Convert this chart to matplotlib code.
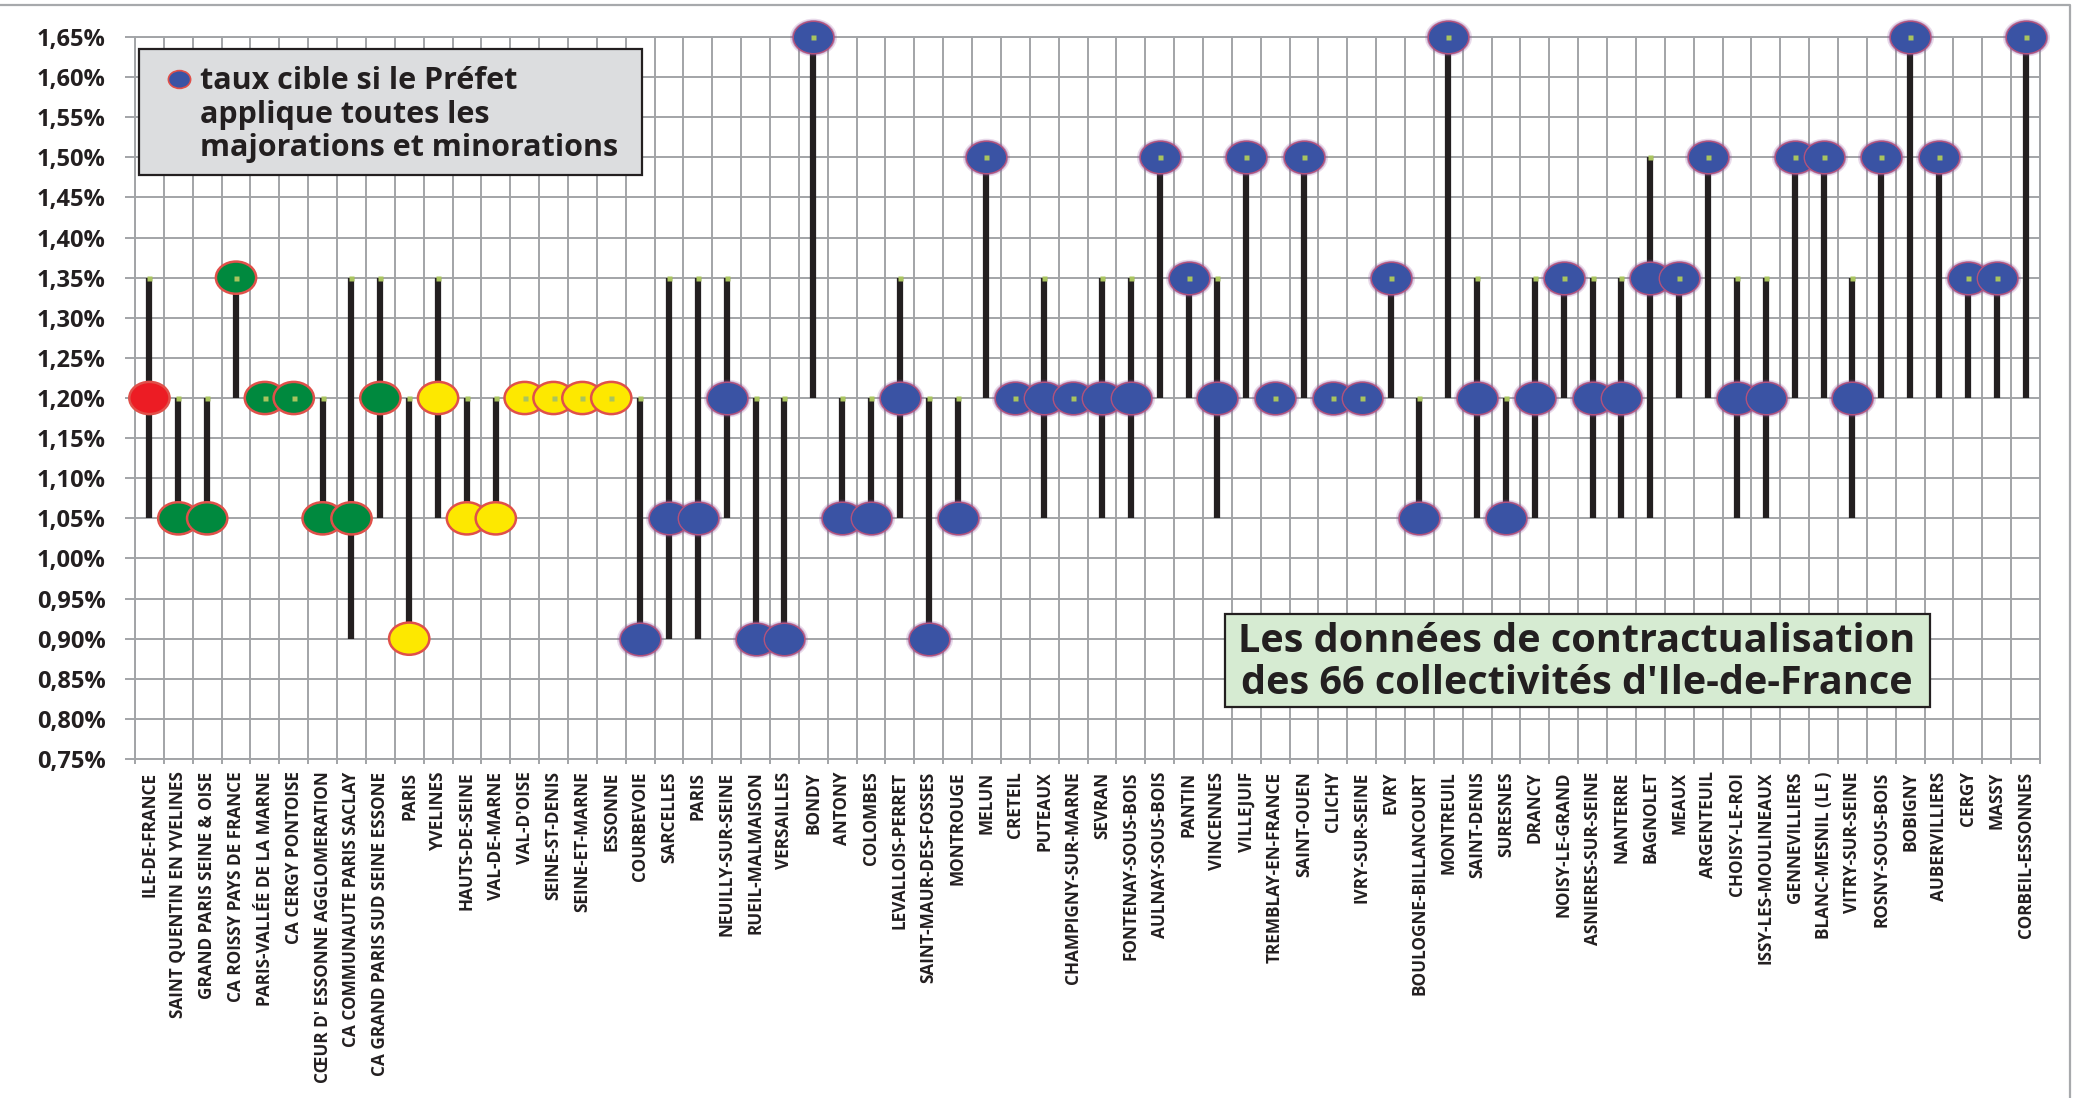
import numpy as np
import matplotlib
matplotlib.use("Agg")
import matplotlib.pyplot as plt
from matplotlib.path import Path
from matplotlib.transforms import Affine2D
from matplotlib.patches import Rectangle
from matplotlib.lines import Line2D

# ---------------------------------------------------------------------------
# Data : fourchette de taux (bas / haut) et taux cible par collectivité
# ---------------------------------------------------------------------------
collectivites = [
    "ILE-DE-FRANCE", "SAINT QUENTIN EN YVELINES", "GRAND PARIS SEINE & OISE",
    "CA ROISSY PAYS DE FRANCE", "PARIS-VALLÉE DE LA MARNE", "CA CERGY PONTOISE",
    "CŒUR D' ESSONNE AGGLOMERATION", "CA COMMUNAUTE PARIS SACLAY",
    "CA GRAND PARIS SUD SEINE ESSONE", "PARIS", "YVELINES", "HAUTS-DE-SEINE",
    "VAL-DE-MARNE", "VAL-D'OISE", "SEINE-ST-DENIS", "SEINE-ET-MARNE", "ESSONNE",
    "COURBEVOIE", "SARCELLES", "PARIS", "NEUILLY-SUR-SEINE", "RUEIL-MALMAISON",
    "VERSAILLES", "BONDY", "ANTONY", "COLOMBES", "LEVALLOIS-PERRET",
    "SAINT-MAUR-DES-FOSSES", "MONTROUGE", "MELUN", "CRETEIL", "PUTEAUX",
    "CHAMPIGNY-SUR-MARNE", "SEVRAN", "FONTENAY-SOUS-BOIS", "AULNAY-SOUS-BOIS",
    "PANTIN", "VINCENNES", "VILLEJUIF", "TREMBLAY-EN-FRANCE", "SAINT-OUEN",
    "CLICHY", "IVRY-SUR-SEINE", "EVRY", "BOULOGNE-BILLANCOURT", "MONTREUIL",
    "SAINT-DENIS", "SURESNES", "DRANCY", "NOISY-LE-GRAND", "ASNIERES-SUR-SEINE",
    "NANTERRE", "BAGNOLET", "MEAUX", "ARGENTEUIL", "CHOISY-LE-ROI",
    "ISSY-LES-MOULINEAUX", "GENNEVILLIERS", "BLANC-MESNIL (LE )",
    "VITRY-SUR-SEINE", "ROSNY-SOUS-BOIS", "BOBIGNY", "AUBERVILLIERS", "CERGY",
    "MASSY", "CORBEIL-ESSONNES",
]

taux_bas = [
    1.05, 1.05, 1.05, 1.20, 1.20, 1.20, 1.05, 0.90, 1.05, 0.90,
    1.05, 1.05, 1.05, 1.20, 1.20, 1.20, 1.20, 0.90, 0.90, 0.90,
    1.05, 0.90, 0.90, 1.20, 1.05, 1.05, 1.05, 0.90, 1.05, 1.20,
    1.20, 1.05, 1.20, 1.05, 1.05, 1.20, 1.20, 1.05, 1.20, 1.20,
    1.20, 1.20, 1.20, 1.20, 1.05, 1.20, 1.05, 1.05, 1.05, 1.20,
    1.05, 1.05, 1.05, 1.20, 1.20, 1.05, 1.05, 1.20, 1.20, 1.05,
    1.20, 1.20, 1.20, 1.20, 1.20, 1.20,
]

taux_haut = [
    1.35, 1.20, 1.20, 1.35, 1.20, 1.20, 1.20, 1.35, 1.35, 1.20,
    1.35, 1.20, 1.20, 1.20, 1.20, 1.20, 1.20, 1.20, 1.35, 1.35,
    1.35, 1.20, 1.20, 1.65, 1.20, 1.20, 1.35, 1.20, 1.20, 1.50,
    1.20, 1.35, 1.20, 1.35, 1.35, 1.50, 1.35, 1.35, 1.50, 1.20,
    1.50, 1.20, 1.20, 1.35, 1.20, 1.65, 1.35, 1.20, 1.35, 1.35,
    1.35, 1.35, 1.50, 1.35, 1.50, 1.35, 1.35, 1.50, 1.50, 1.35,
    1.50, 1.65, 1.50, 1.35, 1.35, 1.65,
]

taux_cible = [
    1.20, 1.05, 1.05, 1.35, 1.20, 1.20, 1.05, 1.05, 1.20, 0.90,
    1.20, 1.05, 1.05, 1.20, 1.20, 1.20, 1.20, 0.90, 1.05, 1.05,
    1.20, 0.90, 0.90, 1.65, 1.05, 1.05, 1.20, 0.90, 1.05, 1.50,
    1.20, 1.20, 1.20, 1.20, 1.20, 1.50, 1.35, 1.20, 1.50, 1.20,
    1.50, 1.20, 1.20, 1.35, 1.05, 1.65, 1.20, 1.05, 1.20, 1.35,
    1.20, 1.20, 1.35, 1.35, 1.50, 1.20, 1.20, 1.50, 1.50, 1.20,
    1.50, 1.65, 1.50, 1.35, 1.35, 1.65,
]

# type de collectivité : R = région, E = EPCI, D = département, C = commune
types = ["R"] + ["E"] * 8 + ["D"] * 8 + ["C"] * 49

y_ticks = [0.75 + 0.05 * k for k in range(19)]

# ---------------------------------------------------------------------------
# Styles
# ---------------------------------------------------------------------------
DARK = "#231f20"
GRID = "#a2a4a7"
FONT = ["Open Sans", "DejaVu Sans"]
_TYPE_COLORS = {"R": "#ec1c24", "E": "#00893e", "D": "#fde800", "C": "#3a53a4"}

W, H = 2076, 1098
plt.rcParams["font.family"] = FONT
fig = plt.figure(figsize=(W / 100, H / 100), dpi=100)

# plot area, pixel-based placement
L, R, T, B = 135, 2040, 37, 759
ax = fig.add_axes([L / W, 1 - B / H, (R - L) / W, (B - T) / H])

n = len(collectivites)
x = np.arange(n) + 0.5

ax.set_xlim(0, n)
ax.set_ylim(0.75, 1.65)

# gridlines on category boundaries and every 0.05 %
ax.set_xticks(np.arange(n + 1))
ax.set_xticklabels([])
ax.set_xticks(x, minor=True)
ax.set_xticklabels(collectivites, minor=True, rotation=90, ha="center", va="top",
                   fontsize=12.3, fontweight="bold", color=DARK)
ax.tick_params(axis="x", which="major", length=3.5, width=1.4, color=GRID)
ax.tick_params(axis="x", which="minor", length=0, pad=9)

ax.set_yticks(y_ticks)
ax.set_yticklabels([f"{v:.2f}%".replace(".", ",") for v in y_ticks],
                   fontsize=17, fontweight="bold", color=DARK)
ax.tick_params(axis="y", length=7, width=1.4, color=GRID, pad=14)

ax.grid(True, which="major", color=GRID, linewidth=1.4, zorder=0)
ax.set_axisbelow(True)
for sp in ax.spines.values():
    sp.set_color(GRID)
    sp.set_linewidth(1.4)

# fourchettes
ax.vlines(x, taux_bas, taux_haut, color=DARK, linewidth=4.5, zorder=2)

# taux cible : ellipses
ell = Path.unit_circle().transformed(Affine2D().scale(1.0, 0.8))
cols = [_TYPE_COLORS[t] for t in types]
is_commune = np.array([t == "C" for t in types])
xc = x[is_commune]
yc = np.array(taux_cible)[is_commune]
# halo des communes
ax.scatter(xc, yc, s=1150, marker=ell, color="#9a5aa0", alpha=0.22,
           linewidths=0, zorder=3, clip_on=False)
ax.scatter(xc, yc, s=990, marker=ell, color="#8a4f9a", alpha=0.45,
           linewidths=0, zorder=3, clip_on=False)
ax.scatter(xc, yc, s=850, marker=ell, color=_TYPE_COLORS["C"],
           edgecolors="#b3527c", linewidths=1.0, zorder=4, clip_on=False)
xo = x[~is_commune]
yo = np.array(taux_cible)[~is_commune]
ax.scatter(xo, yo, s=840, marker=ell,
           color=[c for c, m in zip(cols, is_commune) if not m],
           edgecolors="#e0504a", linewidths=1.8, zorder=4, clip_on=False)

# petit repère au sommet de chaque fourchette
ax.plot(x, taux_haut, "s", ms=3.6, color="#a9c45e", mec="none", zorder=5,
        clip_on=False)

# ---------------------------------------------------------------------------
# Légende et encadré
# ---------------------------------------------------------------------------
def px(xp, yp):
    return xp / W, 1 - yp / H

fig.patches.append(Rectangle(px(139, 175), 503 / W, 126 / H, transform=fig.transFigure,
                             facecolor="#dcdddf", edgecolor=DARK, linewidth=1.6,
                             zorder=5))
lx, ly = px(179, 79)
fig.lines.append(Line2D([lx], [ly], marker=ell, markersize=16, color="#3a53a4",
                        markeredgecolor="#e0504a", markeredgewidth=1.2,
                        transform=fig.transFigure, zorder=6))
for k, line in enumerate(["taux cible si le Préfet", "applique toutes les",
                          "majorations et minorations"]):
    fig.text(*px(200, 81 + 33.5 * k), line, fontsize=22, fontweight="bold",
             color=DARK, ha="left", va="center", zorder=6)

fig.patches.append(Rectangle(px(1225, 707), 705 / W, 93 / H, transform=fig.transFigure,
                             facecolor="#d6ebd2", edgecolor=DARK, linewidth=1.6,
                             zorder=5))
fig.text(*px(1577, 641), "Les données de contractualisation", fontsize=28.5,
         fontweight="bold", color=DARK, ha="center", va="center", zorder=6)
fig.text(*px(1577, 684), "des 66 collectivités d'Ile-de-France", fontsize=28.5,
         fontweight="bold", color=DARK, ha="center", va="center", zorder=6)

# cadre gris du graphique (haut et droite)
fig.lines.append(Line2D([0, 2070 / W, 2070 / W], [1 - 5 / H, 1 - 5 / H, 0],
                        color="#a7a9ac", linewidth=1.6, transform=fig.transFigure))

fig.savefig("out.png", dpi=100)
